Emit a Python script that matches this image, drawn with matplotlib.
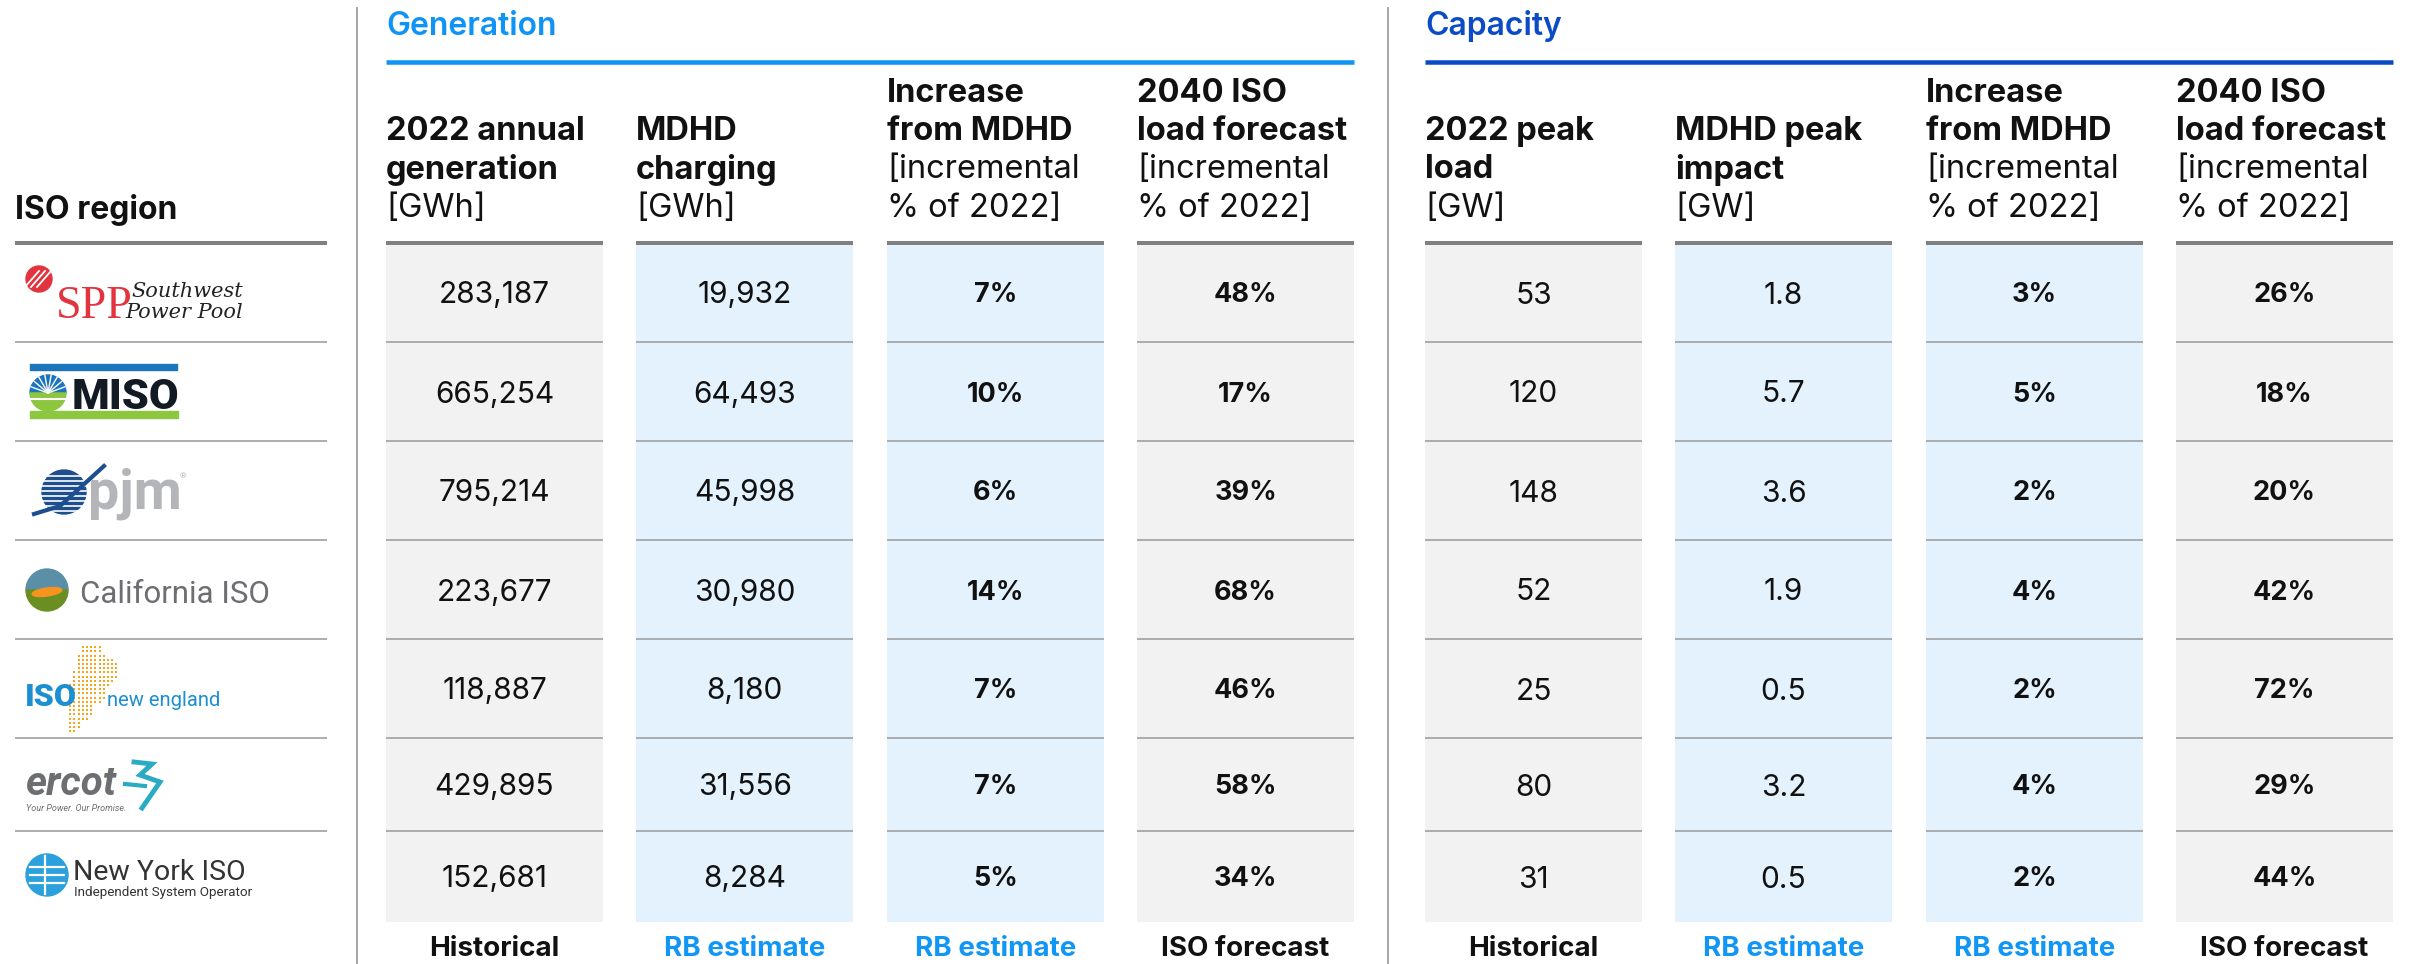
import numpy as np
import matplotlib
matplotlib.use("Agg")
import matplotlib.pyplot as plt
from matplotlib.patches import Rectangle, Circle, Wedge, Polygon, Ellipse
from matplotlib.path import Path

# ---------------- data ----------------
regions = ["SPP", "MISO", "PJM", "California ISO", "ISO New England", "ERCOT", "New York ISO"]
gen_annual_2022 = [283187, 665254, 795214, 223677, 118887, 429895, 152681]   # GWh
gen_mdhd_charging = [19932, 64493, 45998, 30980, 8180, 31556, 8284]         # GWh
gen_increase_pct = [7, 10, 6, 14, 7, 7, 5]
gen_iso_2040_pct = [48, 17, 39, 68, 46, 58, 34]
cap_peak_2022 = [53, 120, 148, 52, 25, 80, 31]                              # GW
cap_mdhd_peak = [1.8, 5.7, 3.6, 1.9, 0.5, 3.2, 0.5]                         # GW
cap_increase_pct = [3, 5, 2, 4, 2, 4, 2]
cap_iso_2040_pct = [26, 18, 20, 42, 72, 29, 44]

section_titles = ["Generation", "Capacity"]
gen_headers = [(["2022 annual", "generation"], ["[GWh]"]),
               (["MDHD", "charging"], ["[GWh]"]),
               (["Increase", "from MDHD"], ["[incremental", "% of 2022]"]),
               (["2040 ISO", "load forecast"], ["[incremental", "% of 2022]"])]
cap_headers = [(["2022 peak", "load"], ["[GW]"]),
               (["MDHD peak", "impact"], ["[GW]"]),
               (["Increase", "from MDHD"], ["[incremental", "% of 2022]"]),
               (["2040 ISO", "load forecast"], ["[incremental", "% of 2022]"])]
source_labels = ["Historical", "RB estimate", "RB estimate", "ISO forecast"]
row_header = "ISO region"

# ---------------- style / layout ----------------
FONT = ["Inter", "DejaVu Sans"]
plt.rcParams["font.family"] = FONT
W, H = 2420, 964
col_left = [386, 636, 887, 1137, 1425, 1675, 1926, 2176]
col_w = 217
row_edges = [243, 342, 441, 540, 639, 738, 831, 922]
header_last_baseline = 217
header_spacing = 38.5
GRAY_CELL = "#f2f2f2"
BLUE_CELL = "#e3f2fd"
GEN_BLUE = "#0f93f4"
CAP_BLUE = "#0b4cc6"
RB_BLUE = "#1296f5"
PX = 0.72  # points per pixel at dpi 100

fig = plt.figure(figsize=(W / 100, H / 100), dpi=100)
ax = fig.add_axes([0, 0, 1, 1])
ax.set_xlim(0, W)
ax.set_ylim(H, 0)
ax.axis("off")

def fmt_int(v):
    return f"{v:,}"

def fmt_dec(v):
    return f"{v:.1f}"

def fmt_pct(v):
    return f"{v}%"

columns = [
    (gen_annual_2022, fmt_int, "normal"),
    (gen_mdhd_charging, fmt_int, "normal"),
    (gen_increase_pct, fmt_pct, "bold"),
    (gen_iso_2040_pct, fmt_pct, "bold"),
    (cap_peak_2022, str, "normal"),
    (cap_mdhd_peak, fmt_dec, "normal"),
    (cap_increase_pct, fmt_pct, "bold"),
    (cap_iso_2040_pct, fmt_pct, "bold"),
]
headers = gen_headers + cap_headers
sources = source_labels + source_labels

# vertical dividers
for xv in (357, 1388):
    ax.plot([xv, xv], [7, H], color="#a8a8a8", lw=2 * PX, solid_capstyle="butt")

# section titles and lines
for i, (title, color) in enumerate(zip(section_titles, [GEN_BLUE, CAP_BLUE])):
    x0 = col_left[4 * i]
    x1 = col_left[4 * i + 3] + col_w
    ax.text(x0, 35, title, color=color, fontsize=23, fontweight="semibold",
            va="baseline", ha="left")
    ax.plot([x0, x1], [62, 62], color=color, lw=4.5 * PX, solid_capstyle="butt")

# row header
ax.text(15, 219, row_header, fontsize=23, fontweight="bold", va="baseline", ha="left", color="#111111")
ax.plot([15, 327], [243, 243], color="#808080", lw=4 * PX, solid_capstyle="butt")
for ye in row_edges[1:-1]:
    ax.plot([15, 327], [ye, ye], color="#a6a6a6", lw=1.8 * PX, solid_capstyle="butt")

# data columns
for c, ((vals, fmt, weight), (bold_lines, light_lines), src) in enumerate(zip(columns, headers, sources)):
    x0 = col_left[c]
    xc = x0 + col_w / 2
    fill = BLUE_CELL if src == "RB estimate" else GRAY_CELL
    ax.add_patch(Rectangle((x0, row_edges[0]), col_w, row_edges[-1] - row_edges[0],
                           facecolor=fill, edgecolor="none", zorder=1))
    ax.plot([x0, x0 + col_w], [row_edges[0], row_edges[0]], color="#808080",
            lw=4 * PX, solid_capstyle="butt", zorder=3)
    for ye in row_edges[1:-1]:
        ax.plot([x0, x0 + col_w], [ye, ye], color="#a6a6a6", lw=1.8 * PX,
                solid_capstyle="butt", zorder=3)
    # header text
    lines = [(t, "bold", 23.5) for t in bold_lines] + [(t, "normal", 23.5) for t in light_lines]
    n = len(lines)
    for k, (t, wgt, fs) in enumerate(lines):
        yb = header_last_baseline - (n - 1 - k) * header_spacing
        ax.text(x0, yb, t, fontsize=fs, fontweight=wgt, va="baseline", ha="left",
                color="#111111")
    # values
    for r, v in enumerate(vals):
        yc = (row_edges[r] + row_edges[r + 1]) / 2
        ax.text(xc, yc, fmt(v), fontsize=21.5 if weight == "normal" else 19.5,
                fontweight=weight, va="center_baseline", ha="center", color="#111111", zorder=4)
    # source footer
    ax.text(xc, 946, src, fontsize=20, fontweight="bold", va="center_baseline", ha="center",
            color=RB_BLUE if src == "RB estimate" else "#111111")

# ---------------- logos (approximate) ----------------
LOGO = ["Roboto", "DejaVu Sans"]

# SPP
ax.add_patch(Circle((39, 279), 13, color="#e2343f", zorder=5))
for d in (-6, 0, 6):
    ax.plot([31 + d, 45 + d], [287, 271], color="white", lw=1.3, zorder=6)
ax.text(56, 318, "SPP", fontsize=33, family=["Liberation Serif"],
        color="#e2343f", va="baseline", ha="left")
ax.text(131, 297, "Southwest", fontsize=15, family="DejaVu Serif", style="italic",
        color="#222222", va="baseline", ha="left")
ax.text(125, 318, "Power Pool", fontsize=15, family="DejaVu Serif", style="italic",
        color="#222222", va="baseline", ha="left")

# MISO
ax.add_patch(Rectangle((30, 364), 147, 6, color="#1b75bc", zorder=5))
ax.add_patch(Rectangle((30, 411), 148, 7, color="#8dc63f", zorder=5))
ax.add_patch(Wedge((48, 393), 18, 180, 360, color="#1b75bc", zorder=5))
ax.add_patch(Wedge((48, 393), 18, 0, 180, color="#8dc63f", zorder=5))
for a in np.linspace(200, 340, 8):
    ax.plot([48, 48 + 18 * np.cos(np.radians(a))], [393, 393 + 18 * np.sin(np.radians(a))],
            color="white", lw=1.0, zorder=6)
ax.plot([30, 66], [399, 399], color="white", lw=1.5, zorder=6)
ax.text(72, 409, "MISO", fontsize=31, family=LOGO, fontweight="black", color="#121a24",
        va="baseline", ha="left")

# PJM
ax.add_patch(Circle((64, 492), 22, color="#1d4f8f", zorder=5))
for yy in np.arange(476, 512, 5):
    ax.plot([42, 86], [yy, yy], color="white", lw=1.2, zorder=6)
ax.plot([34, 60, 104], [514, 506, 466], color="#1d4f8f", lw=3, zorder=6)
ax.text(88, 508, "pjm", fontsize=40, family=LOGO, fontweight="bold", color="#b3b5b8",
        va="baseline", ha="left", zorder=7)
ax.text(180, 478, "®", fontsize=6, family=LOGO, color="#b3b5b8", va="baseline", ha="left")

# California ISO
ax.add_patch(Wedge((47, 590), 21, 180, 360, color="#5b8fa8", zorder=5))
ax.add_patch(Wedge((47, 590), 21, 0, 180, color="#6b8e23", zorder=5))
ax.add_patch(Ellipse((47, 592), 30, 8, angle=-8, color="#f7941d", zorder=6))
ax.text(80, 603, "California ISO", fontsize=22.5, family=LOGO, fontweight="normal", color="#6d6e71",
        va="baseline", ha="left")

# ISO New England
ne_shape = Path([(84, 643), (98, 643), (104, 655), (117, 662), (117, 676), (104, 690),
                 (104, 700), (96, 704), (92, 716), (80, 724), (76, 733), (70, 733),
                 (70, 705), (68, 690), (74, 672), (78, 655), (84, 643)])
gx, gy = np.meshgrid(np.arange(66, 120, 4.2), np.arange(643, 735, 4.2))
pts = np.column_stack([gx.ravel(), gy.ravel()])
inside = ne_shape.contains_points(pts)
ax.scatter(pts[inside, 0], pts[inside, 1], s=3.5, marker="s", color="#f9a51a", linewidths=0, zorder=5)
ax.text(25, 706, "ISO", fontsize=23, family=LOGO, fontweight="black", color="#1b8fd2",
        va="baseline", ha="left", zorder=7)
ax.text(107, 706, "new england", fontsize=14.5, family=LOGO, color="#1b8fd2",
        va="baseline", ha="left", zorder=7)

# ERCOT
ax.text(25, 795, "ercot", fontsize=29, family=LOGO, fontweight="bold", style="italic",
        color="#6d6e71", va="baseline", ha="left")
ax.text(26, 811, "Your Power. Our Promise.", fontsize=6.5, family=LOGO, style="italic",
        color="#6d6e71", va="baseline", ha="left")
ax.plot([134, 152, 140, 160, 142], [762, 764, 775, 782, 808], color="#29abc4", lw=3.5,
        solid_joinstyle="miter", zorder=5)
ax.plot([125, 145], [784, 786], color="#29abc4", lw=3.0, zorder=5)

# New York ISO
ax.add_patch(Circle((47, 875), 21, color="#2aa1dc", zorder=5))
for yy in (867, 875, 883):
    ax.plot([30, 64], [yy, yy], color="white", lw=1.6, zorder=6)
ax.plot([45, 45], [856, 894], color="white", lw=1.6, zorder=6)
ax.text(73, 880, "New York ISO", fontsize=20.5, family=LOGO, color="#333333",
        va="baseline", ha="left")
ax.text(74, 896, "Independent System Operator", fontsize=9.7, family=LOGO, color="#333333",
        va="baseline", ha="left")

fig.savefig("out.png", dpi=100, facecolor="white")
